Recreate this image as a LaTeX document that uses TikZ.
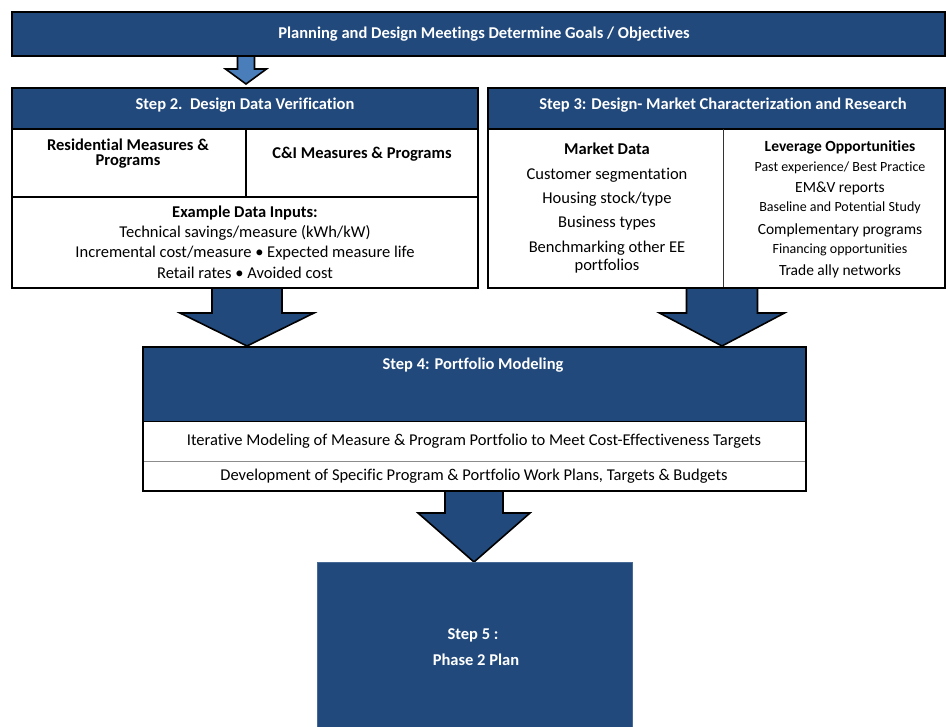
\documentclass[tikz,border=0pt]{standalone}
\usepackage{fontspec}
\setmainfont{Carlito}[Ligatures={NoCommon}]
\definecolor{dkblue}{RGB}{33,73,124}
\definecolor{ltblue}{RGB}{74,126,187}
\definecolor{edgeblue}{RGB}{70,105,150}
\newcommand{\fs}[1]{\fontsize{#1}{#1}\selectfont}
\newcommand{\barrow}[7]{%
  \fill[#7] (#1-#5,#2) -- (#1-#5,#3) -- (#1-#6,#3) -- (#1,#4) -- (#1+#6,#3) -- (#1+#5,#3) -- (#1+#5,#2) -- cycle;
  \draw[black, line width=1.6pt, line join=miter] (#1-#5,#2) -- (#1-#5,#3) -- (#1-#6,#3) -- (#1,#4) -- (#1+#6,#3) -- (#1+#5,#3) -- (#1+#5,#2);}
\tikzset{
  hdr/.style={text=white, font=\fs{16.5}\bfseries, inner sep=0pt, anchor=center},
  body/.style={text=black, font=\fs{16.5}, inner sep=0pt, anchor=center},
  bodyb/.style={text=black, font=\fs{16.5}\bfseries, inner sep=0pt, anchor=center},
  small/.style={text=black, font=\fs{14}, inner sep=0pt, anchor=center},
  outer/.style={draw=black, line width=2.5pt},
}
\begin{document}
\begin{tikzpicture}[x=1pt,y=-1pt]
\useasboundingbox (0,0) rectangle (946,727);
\clip (0,0) rectangle (946,727);
% arrows (drawn first)
\barrow{246}{56}{69}{84}{8.5}{20.5}{ltblue}
\barrow{247}{288}{313}{346}{35}{67}{dkblue}
\barrow{722}{288}{313}{346}{35.5}{62.5}{dkblue}
\barrow{474}{491}{513}{562}{29}{56}{dkblue}

% top box
\fill[dkblue] (12,12) rectangle (945,56);
\draw[outer] (12,12) rectangle (945,56);
\node[hdr] (top) at (484,34) {Planning and Design Meetings Determine Goals / Objectives};

% step 2
\fill[dkblue] (12,88) rectangle (478,129);
\draw[black, line width=1.5pt] (12,129) -- (478,129);
\draw[black, line width=1.8pt] (246,129) -- (246,197);
\draw[black, line width=1.5pt] (12,197) -- (478,197);
\draw[outer] (12,88) rectangle (478,288);
\node[hdr] (s2h) at (245,105) {Step 2.\ \ Design Data Verification};
\node[bodyb] (res1) at (128,145) {Residential Measures \&};
\node[bodyb] (res2) at (128,162) {Programs};
\node[bodyb] (ci) at (362,154) {C\&I Measures \& Programs};
\node[bodyb] (ex1) at (245,213) {Example Data Inputs:};
\node[body] (ex2) at (245,233) {Technical savings/measure (kWh/kW)};
\node[body] (ex3) at (245,253) {Incremental cost/measure \textbullet\ Expected measure life};
\node[body] (ex4) at (245,273) {Retail rates \textbullet\ Avoided cost};

% step 3
\fill[dkblue] (488,88) rectangle (945,129);
\draw[black, line width=1.5pt] (488,129) -- (945,129);
\draw[black!80, line width=1pt] (723,129) -- (723,288);
\draw[outer] (488,88) rectangle (945,288);
\node[hdr] (s3h) at (723,105) {Step 3: Design- Market Characterization and Research};
\node[bodyb] (md) at (607,149) {Market Data};
\node[body] (md1) at (607,175) {Customer segmentation};
\node[body] (md2) at (607,199) {Housing stock/type};
\node[body] (md3) at (607,223) {Business types};
\node[body] (md4) at (607,248) {Benchmarking other EE};
\node[body] (md5) at (607,266) {portfolios};
\node[bodyb, font=\fs{15.5}\bfseries] (lv) at (840,147) {Leverage Opportunities};
\node[small] (lv1) at (840,168) {Past experience/ Best Practice};
\node[body, font=\fs{15.5}] (lv2) at (840,188) {EM\&V reports};
\node[small] (lv3) at (840,208) {Baseline and Potential Study};
\node[body, font=\fs{15.5}] (lv4) at (840,230) {Complementary programs};
\node[small] (lv5) at (840,250) {Financing opportunities};
\node[body, font=\fs{15.5}] (lv6) at (840,271) {Trade ally networks};

% step 4
\fill[dkblue] (143,347) rectangle (806,422);
\draw[black, line width=1pt] (143,422) -- (806,422);
\draw[black!45, line width=1pt] (143,462) -- (806,462);
\draw[black, line width=2pt] (143,347) rectangle (806,491);
\node[hdr] (s4h) at (473,365) {Step 4: Portfolio Modeling};
\node[body] (s4a) at (474,441) {Iterative Modeling of Measure \& Program Portfolio to Meet Cost-Effectiveness Targets};
\node[body] (s4b) at (474,476) {Development of Specific Program \& Portfolio Work Plans, Targets \& Budgets};

% step 5
\filldraw[fill=dkblue, draw=edgeblue, line width=1pt] (317,562) rectangle (632,740);
\node[hdr] (s5a) at (473,635) {Step 5 :};
\node[hdr] (s5b) at (476,660) {Phase 2 Plan};
\end{tikzpicture}
\end{document}
